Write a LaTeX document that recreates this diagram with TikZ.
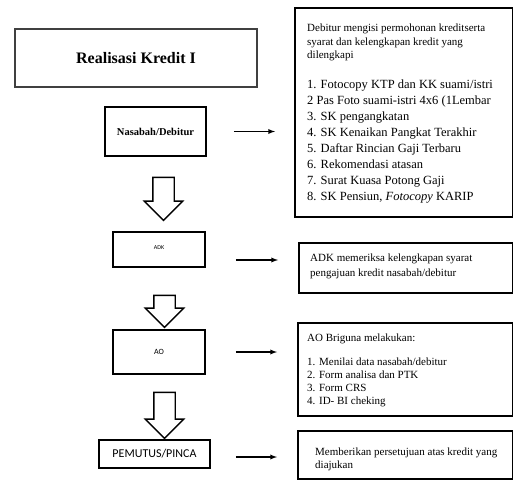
\documentclass[tikz,border=0pt]{standalone}
\usepackage{fontspec}
\setmainfont{Liberation Serif}
\newfontfamily\calibri{Carlito}
\usetikzlibrary{positioning}
\usetikzlibrary{shapes.arrows}
\usetikzlibrary{arrows}

\tikzset{
  leftbox/.style={draw, line width=1.8pt, inner sep=0pt},
  infobox/.style={draw, line width=2.4pt, anchor=north west},
  infotext/.style={anchor=north west, align=left, inner sep=0pt,
    font=\fontsize{11}{13.5}\selectfont},
  flowarrow/.style={draw, line width=1.4pt, single arrow, shape border rotate=270,
    single arrow head extend=8.5pt, inner xsep=10pt, inner ysep=0pt,
    minimum height=#1},
  sidearrow/.style={-latex, line width=1.3pt},
}

\begin{document}
\begin{tikzpicture}[x=1pt,y=-1pt]
\useasboundingbox (0,0) rectangle (513,479);

% left column
\node[leftbox, draw=black!75, minimum width=242pt, minimum height=58pt,
  font=\fontsize{16}{18}\selectfont\bfseries] (title) at (136,58) {Realisasi Kredit I};
\node[leftbox, minimum width=101pt, minimum height=49pt,
  font=\fontsize{10.5}{12}\selectfont\bfseries] (nasabah) at (155.5,131.5) {Nasabah/Debitur};
\node[leftbox, minimum width=92pt, minimum height=35pt,
  font=\calibri\fontsize{6}{7}\selectfont] (adk) at (159,249.5) {\raisebox{4pt}{ADK}};
\node[leftbox, minimum width=92pt, minimum height=44pt,
  font=\calibri\fontsize{8}{9}\selectfont] (ao) at (159,352) {AO};
\node[leftbox, minimum width=111pt, minimum height=28pt,
  font=\calibri\fontsize{12}{14}\selectfont] (pinca) at (154.5,454) {PEMUTUS/PINCA};

\node[flowarrow=43pt] (down1) at (163.5,193.5) {};
\node[flowarrow=32pt] (down2) at (164.5,306) {};
\node[flowarrow=46pt] (down3) at (164.5,410) {};

% right column
\node[infobox, minimum width=218pt, minimum height=209pt] (info1) at (294,7) {};
\node[infobox, minimum width=214pt, minimum height=50pt] (info2) at (298,242) {};
\node[infobox, minimum width=215pt, minimum height=93pt] (info3) at (297,322) {};
\node[infobox, minimum width=215pt, minimum height=48pt] (info4) at (297,430) {};

\node[infotext, below right=17pt and 13pt of info1.north west] (syarat) {%
  Debitur mengisi permohonan kreditserta\\
  syarat dan kelengkapan kredit yang\\
  dilengkapi};
\node[infotext, font=\fontsize{12.5}{16}\selectfont,
  below right=72.5pt and 13pt of info1.north west] (berkas) {%
  1. Fotocopy KTP dan KK suami/istri\\
  2 Pas Foto suami-istri 4x6 (1Lembar\\
  3. SK pengangkatan\\
  4. SK Kenaikan Pangkat Terakhir\\
  5. Daftar Rincian Gaji Terbaru\\
  6. Rekomendasi atasan\\
  7. Surat Kuasa Potong Gaji\\
  8. SK Pensiun, \textit{Fotocopy} KARIP};
\node[infotext, font=\fontsize{11}{15}\selectfont,
  below right=12pt and 12pt of info2.north west] (periksa) {%
  ADK memeriksa kelengkapan syarat\\
  pengajuan kredit nasabah/debitur};
\node[infotext, below right=12pt and 10pt of info3.north west] (briguna) {%
  AO Briguna melakukan:};
\node[infotext, font=\fontsize{11}{13}\selectfont,
  below right=36pt and 10pt of info3.north west] (analisa) {%
  1. Menilai data nasabah/debitur\\
  2. Form analisa dan PTK\\
  3. Form CRS\\
  4. ID- BI cheking};
\node[infotext, font=\fontsize{11}{13}\selectfont,
  below right=18pt and 18pt of info4.north west] (setuju) {%
  Memberikan persetujuan atas kredit yang\\
  diajukan};

\draw[sidearrow] ([xshift=27pt]nasabah.east) -- ([xshift=-19pt]nasabah.east -| info1.west);
\draw[sidearrow] ([xshift=30pt,yshift=-10.5pt]adk.east) -- ([xshift=-20pt,yshift=-10.5pt]adk.east -| info2.west);
\draw[sidearrow] ([xshift=30pt]ao.east) -- ([xshift=-20pt]ao.east -| info3.west);
\draw[sidearrow] ([xshift=25pt,yshift=-3pt]pinca.east) -- ([xshift=-20pt,yshift=-3pt]pinca.east -| info4.west);
\end{tikzpicture}
\end{document}
